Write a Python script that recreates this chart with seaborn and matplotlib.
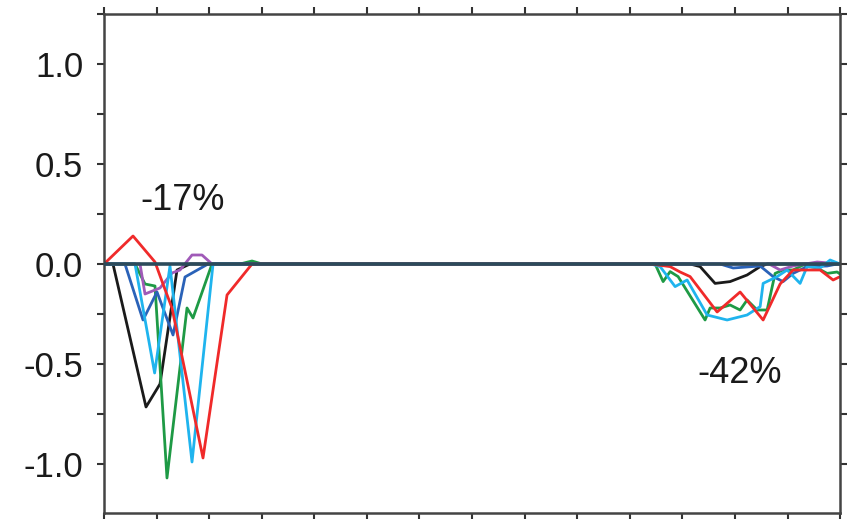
import numpy as np
import pandas as pd
import matplotlib
matplotlib.use("Agg")
import matplotlib.pyplot as plt
import seaborn as sns
from matplotlib.ticker import MultipleLocator, NullFormatter

sns.set_theme(style="white")
plt.rcParams["font.family"] = ["Liberation Sans", "DejaVu Sans"]

# Anomaly series (x in tick intervals, y in data units)
black_x = [0, 0.171, 0.799, 1.065, 1.389, 1.636, 11.147, 11.337, 11.622, 11.908, 12.231, 12.479, 12.612, 14.0]
black_y = [0, 0, -0.715, -0.60, -0.03, 0, 0, -0.013, -0.097, -0.088, -0.055, -0.013, 0, 0]

green_x = [0, 0.590, 0.780, 0.970, 1.198, 1.579, 1.693, 2.054, 2.587, 2.815, 3.006,
           10.291, 10.482, 10.634, 10.767, 10.919, 11.432, 11.527, 11.718, 11.908, 12.098,
           12.231, 12.422, 12.612, 12.764, 12.916, 13.106, 13.296, 13.563, 13.753, 13.943, 14.0]
green_y = [0, 0, -0.10, -0.11, -1.07, -0.22, -0.27, 0, 0, 0.015, 0,
           0, 0, -0.088, -0.038, -0.063, -0.28, -0.22, -0.22, -0.205, -0.23,
           -0.18, -0.23, -0.23, -0.047, -0.03, -0.03, -0.005, -0.02, -0.047, -0.04, -0.05]

blue_x = [0, 0.399, 0.742, 1.008, 1.313, 1.541, 1.979, 11.718, 11.966, 12.479, 12.726, 12.916, 13.106, 13.372, 13.753, 13.943, 14.0]
blue_y = [0, 0, -0.28, -0.14, -0.355, -0.065, 0, 0, -0.02, -0.01, -0.063, -0.088, -0.047, -0.013, -0.01, 0, 0]

purple_x = [0, 0.685, 0.780, 1.065, 1.294, 1.446, 1.674, 1.864, 2.054, 12.65, 12.859, 13.106, 13.563, 14.0]
purple_y = [0, 0, -0.15, -0.12, -0.045, -0.03, 0.045, 0.045, 0, 0, -0.03, -0.01, 0.01, 0]

cyan_x = [0, 0.590, 0.963, 1.255, 1.674, 2.074, 10.40,
          10.577, 10.862, 11.090, 11.471, 11.851, 12.231, 12.479, 12.536, 12.802, 12.992, 13.239, 13.372, 13.620, 13.810, 14.0]
cyan_y = [0, 0, -0.545, -0.01, -0.99, 0, 0,
          -0.013, -0.113, -0.08, -0.255, -0.28, -0.255, -0.213, -0.097, -0.063, -0.03, -0.097, -0.013, -0.02, 0.02, 0]

red_x = [0, 0.552, 0.970, 1.122, 1.293, 1.883, 2.340, 2.815,
         10.386, 10.767, 10.957, 11.147, 11.661, 12.098, 12.536, 12.859, 13.106, 13.620, 13.867, 14.0]
red_y = [0, 0.14, 0.01, -0.10, -0.22, -0.97, -0.155, 0,
         0, -0.013, -0.04, -0.063, -0.24, -0.14, -0.28, -0.10, -0.03, -0.03, -0.08, -0.063]

series = {
    "black": (black_x, black_y, "#1a1a1a"),
    "green": (green_x, green_y, "#1e9a45"),
    "blue": (blue_x, blue_y, "#2a62b8"),
    "purple": (purple_x, purple_y, "#a05ab8"),
    "cyan": (cyan_x, cyan_y, "#1fb4ee"),
    "red": (red_x, red_y, "#f02a2a"),
}

frames = []
for name, (xs, ys, _) in series.items():
    frames.append(pd.DataFrame({"x": xs, "y": ys, "series": name}))
df = pd.concat(frames, ignore_index=True)
palette = {name: c for name, (_, _, c) in series.items()}

fig = plt.figure(figsize=(8.51, 5.19), dpi=100)
ax = fig.add_axes([0.1222, 0.0116, 0.8650, 0.9614])

sns.lineplot(data=df, x="x", y="y", hue="series", palette=palette,
             sort=False, estimator=None, legend=False, linewidth=2.0, ax=ax)

ax.axhline(0, color="#2c4a5a", linewidth=2.6, zorder=5)

ax.set_xlim(0, 14)
ax.set_ylim(-1.245, 1.25)
ax.set_xlabel("")
ax.set_ylabel("")

ax.xaxis.set_major_locator(MultipleLocator(1))
ax.xaxis.set_major_formatter(NullFormatter())
ax.yaxis.set_minor_locator(MultipleLocator(0.25))
ax.set_yticks([-1.0, -0.5, 0.0, 0.5, 1.0])
ax.set_yticklabels(["-1.0", "-0.5", "0.0", "0.5", "1.0"])

ax.tick_params(axis="x", which="major", direction="out", length=5, width=1.5,
               color="#333333", top=True, bottom=True)
ax.tick_params(axis="y", which="both", direction="out", length=5, width=1.5,
               color="#333333", left=True, right=True, labelsize=25,
               labelcolor="#1a1a1a", pad=10)

for sp in ax.spines.values():
    sp.set_visible(True)
    sp.set_color("#444444")
    sp.set_linewidth(1.8)

ax.text(0.685, 0.32, "-17%", fontsize=26, color="#1a1a1a", va="center", ha="left")
ax.text(11.28, -0.55, "-42%", fontsize=26, color="#1a1a1a", va="center", ha="left")

fig.savefig("out.png", dpi=100)
